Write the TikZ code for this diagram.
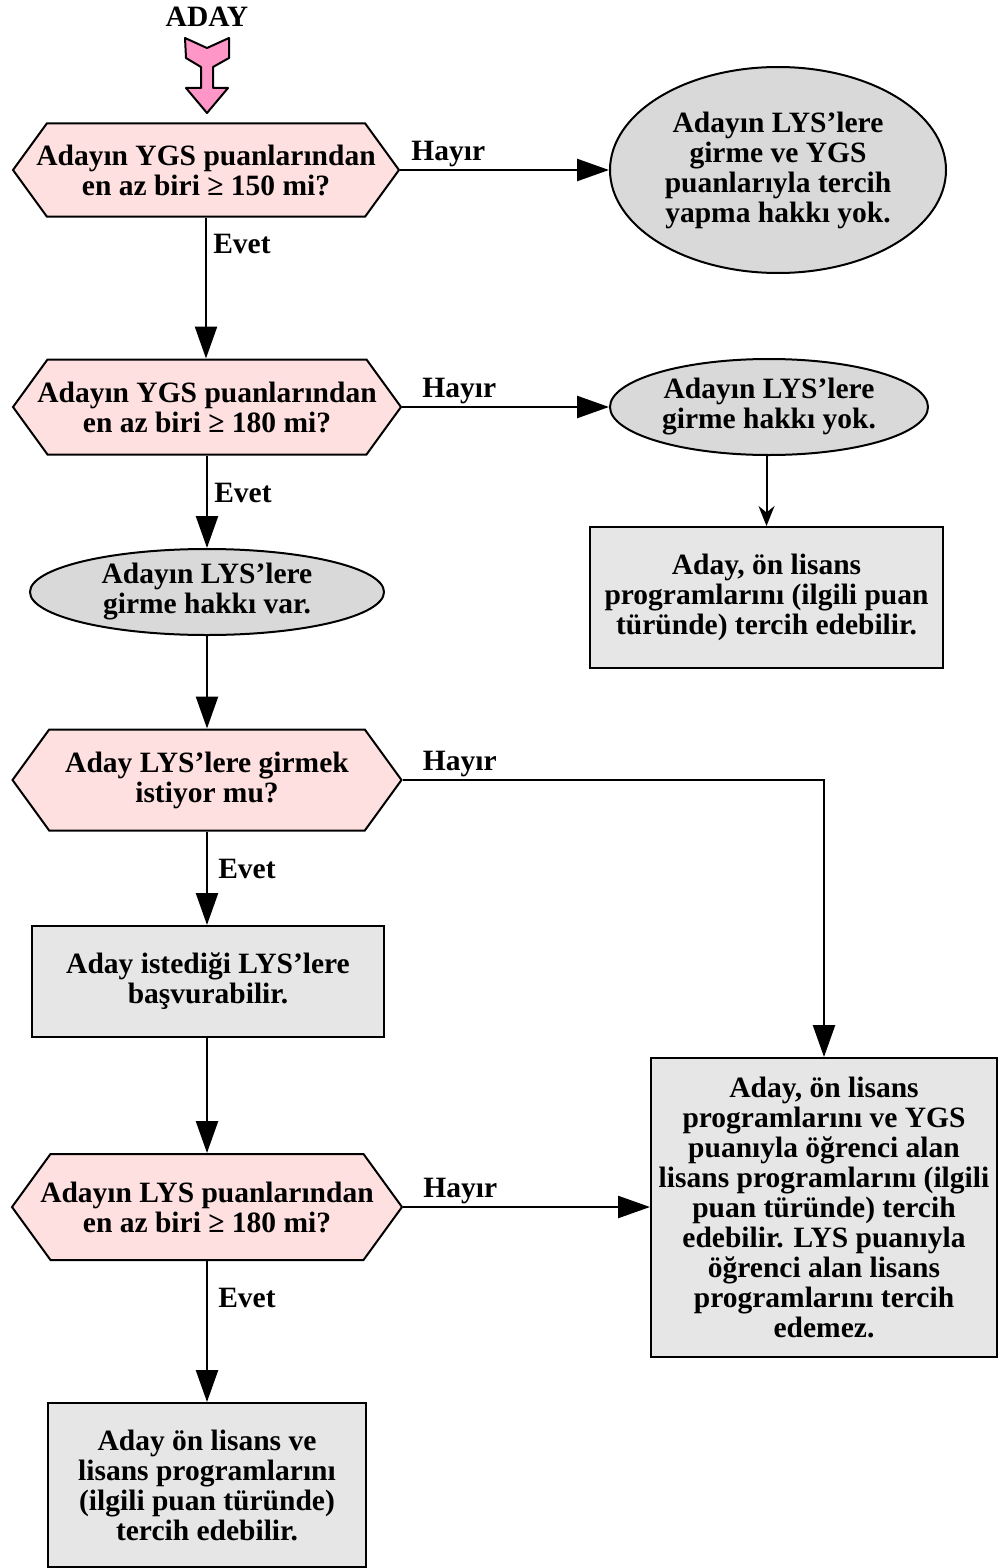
\documentclass[tikz,border=0pt]{standalone}
\usepackage{fontspec}
\setmainfont{Liberation Serif}
\usetikzlibrary{
  shapes.symbols,
  shapes.geometric,
  arrows.meta
}
\definecolor{hexpink}{RGB}{255,224,224}
\definecolor{ovalgray}{RGB}{217,217,217}
\definecolor{boxgray}{RGB}{230,230,230}
\definecolor{arrowpink}{RGB}{255,150,200}

\begin{document}
\begin{tikzpicture}[x=1pt, y=-1pt,
  font=\fontsize{29.5}{30}\selectfont\bfseries,
  question/.style={draw, line width=2pt, fill=hexpink, signal,
    signal to=west and east, signal pointer angle=108,
    align=center, inner ysep=0pt, inner xsep=-30pt},
  answer/.style={draw, line width=2pt, fill=ovalgray, ellipse,
    align=center, inner sep=0pt},
  result/.style={draw, line width=2pt, fill=boxgray, align=center, inner sep=0pt},
  link/.style={line width=2.5pt, -{Triangle[length=32pt, width=22pt]}},
  yesno/.style={inner sep=2pt}
]
  \useasboundingbox (0,0) rectangle (999,1568);

  \node (aday) at (207,17) {ADAY};
  \draw[line width=2pt, fill=arrowpink, line join=round]
  (185,38) -- (207,48) -- (229,38) -- (229,58) -- (213,67) -- (213,88)
  -- (228,88) -- (207,113) -- (186,88) -- (201,88) -- (201,67)
  -- (186,58) -- cycle;

  % questions
  \node[question, minimum width=386pt, minimum height=93pt] (q1) at (206,170)
  {Adayın YGS puanlarından\\en az biri ≥ 150 mi?};
  \node[question, minimum width=388pt, minimum height=95pt] (q2) at (207,407)
  {Adayın YGS puanlarından\\en az biri ≥ 180 mi?};
  \node[question, minimum width=389pt, minimum height=101pt] (q3) at (207,780)
  {Aday LYS’lere girmek\\istiyor mu?};
  \node[question, minimum width=390pt, minimum height=106pt] (q4) at (207,1207)
  {Adayın LYS puanlarından\\en az biri ≥ 180 mi?};

  % answers
  \node[answer, minimum width=336pt, minimum height=206pt] (no1) at (778,170)
  {Adayın LYS’lere\\girme ve YGS\\puanlarıyla tercih\\yapma hakkı yok.};
  \node[answer, minimum width=318pt, minimum height=96pt] (no2) at (769,407)
  {Adayın LYS’lere\\girme hakkı yok.};
  \node[answer, minimum width=354pt, minimum height=86pt] (yes2) at (207,592)
  {Adayın LYS’lere\\girme hakkı var.};

  % results
  \node[result, minimum width=353pt, minimum height=141pt] (res1) at (766.5,597.5)
  {Aday, ön lisans\\programlarını (ilgili puan\\türünde) tercih edebilir.};
  \node[result, minimum width=352pt, minimum height=111pt] (res2) at (208,981.5)
  {Aday istediği LYS’lere\\başvurabilir.};
  \node[result, minimum width=346pt, minimum height=299pt] (res3) at (824,1207.5)
  {Aday, ön lisans\\programlarını ve YGS\\puanıyla öğrenci alan\\lisans programlarını (ilgili\\puan türünde) tercih\\edebilir. LYS puanıyla\\öğrenci alan lisans\\programlarını tercih\\edemez.};
  \node[result, minimum width=318pt, minimum height=164pt] (res4) at (207,1485)
  {Aday ön lisans ve\\lisans programlarını\\(ilgili puan türünde)\\tercih edebilir.};

  % connectors
  \draw[link] (q1.east) -- (no1.west)
  node[yesno, pos=0, anchor=south west, xshift=8pt] {Hayır};
  \draw[link] (q1.south) -- (q1.south |- q2.north)
  node[yesno, pos=0.19, right, xshift=4pt] {Evet};
  \draw[link] (q2.east) -- (no2.west)
  node[yesno, pos=0, anchor=south west, xshift=17pt] {Hayır};
  \draw[line width=2pt, -{Stealth[length=20pt, width=16pt]}]
  (res1.north |- no2.south) -- (res1.north);
  \draw[link] (q2.south) -- (yes2.north)
  node[yesno, pos=0.41, right, xshift=4pt] {Evet};
  \draw[link] (yes2.south) -- (q3.north);
  \draw[link] (q3.east) -| (res3.north)
  node[yesno, pos=0, anchor=south west, xshift=17pt] {Hayır};
  \draw[link] (q3.south) -- (q3.south |- res2.north)
  node[yesno, pos=0.40, right, xshift=8pt] {Evet};
  \draw[link] (q3.south |- res2.south) -- (q4.north);
  \draw[link] (q4.east) -- (q4.east -| res3.west)
  node[yesno, pos=0, anchor=south west, xshift=17pt] {Hayır};
  \draw[link] (q4.south) -- (res4.north)
  node[yesno, pos=0.26, right, xshift=8pt] {Evet};
\end{tikzpicture}
\end{document}
